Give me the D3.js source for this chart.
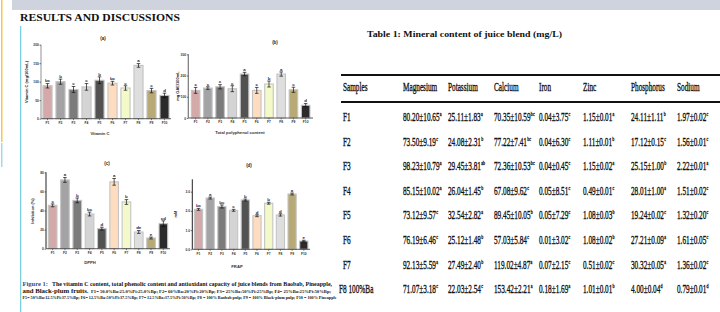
<!DOCTYPE html>
<html>
<head>
<meta charset="utf-8">
<script src="https://cdn.jsdelivr.net/npm/d3@7"></script>
<style>
  html, body { margin: 0; padding: 0; background: #fff; }
  svg { display: block; }
</style>
</head>
<body>
<svg id="page" width="720" height="312"></svg>
<script>
// ---- chart data ----
const samples = ["F1", "F2", "F3", "F4", "F5", "F6", "F7", "F8", "F9", "F10"];
const barColors = ["#d3a9a9", "#a3a3a6", "#7b7b7b", "#d4d4d4", "#525252", "#fddcc0", "#f3f9c8", "#dedede", "#b7aa76", "#2b2b2b"];

const vitaminC = [89, 100, 79, 86, 104, 96, 83, 144, 76, 63];
const vitaminCErr = [6, 7, 8, 9, 9, 5, 6, 5, 6, 6];
const vitaminCLetters = ["bc", "b", "c", "c", "b", "bc", "c", "a", "c", "d"];

const polyphenol = [130, 141, 147, 138, 207, 130, 160, 207, 133, 60];
const polyphenolErr = [14, 6, 10, 14, 8, 14, 14, 10, 12, 8];
const polyphenolLetters = ["c", "c", "c", "c", "a", "c", "b", "a", "c", "d"];

const dpph = [45.4, 72, 50.6, 36.3, 21, 70, 48.9, 17.5, 11.2, 26.2];
const dpphErr = [1.5, 2.5, 2.5, 2, 1.5, 3.5, 2.5, 1.5, 1, 3];
const dpphLetters = ["c", "a", "b", "bc", "d", "a", "b", "de", "e", "cd"];

const frap = [2.08, 2.67, 2.23, 2.03, 2.57, 1.75, 2.40, 1.79, 2.88, 0.43];
const frapErr = [0.05, 0.05, 0.08, 0.05, 0.05, 0.05, 0.05, 0.06, 0.05, 0.04];
const frapLetters = ["bc", "a", "bc", "c", "b", "d", "b", "d", "a", "e"];

// ---- table data ----
const minerals = ["Magnesium", "Potassium", "Calcium", "Iron", "Zinc", "Phosphorus", "Sodium"];
const tableSamples = ["F1", "F2", "F3", "F4", "F5", "F6", "F7", "F8 100%Ba"];
const tableValues = [
  ["80.20±10.65", "25.11±1.83", "70.35±10.59", "0.04±3.75", "1.15±0.01", "24.11±1.11", "1.97±0.02"],
  ["73.50±9.19", "24.08±2.31", "77.22±7.41", "0.04±6.30", "1.11±0.01", "17.12±0.15", "1.56±0.01"],
  ["98.23±10.79", "29.45±3.81", "72.36±10.53", "0.04±0.45", "1.15±0.02", "25.15±1.00", "2.22±0.01"],
  ["85.15±10.02", "26.04±1.45", "67.08±9.62", "0.05±8.51", "0.49±0.01", "28.01±1.00", "1.51±0.02"],
  ["73.12±9.57", "32.54±2.82", "89.45±10.05", "0.05±7.29", "1.08±0.03", "19.24±0.02", "1.32±0.20"],
  ["76.19±6.46", "25.12±1.48", "57.03±5.84", "0.01±3.02", "1.08±0.02", "27.21±0.09", "1.61±0.05"],
  ["92.13±5.59", "27.49±2.40", "119.02±4.87", "0.07±2.15", "0.51±0.02", "30.32±0.05", "1.36±0.02"],
  ["71.07±3.18", "22.03±2.54", "153.42±2.21", "0.18±1.69", "1.01±0.01", "4.00±0.04", "0.79±0.01"]
];
const tableLetters = [
  ["a", "a", "bc", "c", "a", "b", "c"],
  ["c", "b", "bc", "c", "b", "c", "c"],
  ["a", "ab", "bc", "c", "a", "b", "a"],
  ["a", "b", "c", "c", "c", "a", "c"],
  ["c", "a", "b", "c", "b", "c", "c"],
  ["c", "b", "c", "c", "b", "a", "c"],
  ["a", "b", "a", "c", "c", "a", "c"],
  ["c", "c", "a", "a", "b", "d", "d"]
];

const svg = d3.select("#page");
const serif = "'Liberation Serif', 'DejaVu Serif', serif";
const sans = "'Liberation Sans', Arial, sans-serif";

// ---- page decorations ----
svg.append("rect").attr("x", 12).attr("y", 0).attr("width", 708).attr("height", 10).attr("fill", "#cfd3dd");
svg.append("rect").attr("x", 1).attr("y", 0).attr("width", 1.5).attr("height", 142).attr("fill", "#f7c948");
svg.append("rect").attr("x", 1).attr("y", 143).attr("width", 1.5).attr("height", 24).attr("fill", "#a8d8e8");
svg.append("rect").attr("x", 20).attr("y", 26).attr("width", 1.3).attr("height", 286).attr("fill", "#7ccfe0");

svg.append("text")
    .attr("x", 20).attr("y", 21)
    .attr("font-family", serif).attr("font-weight", "bold").attr("font-size", 11)
    .attr("textLength", 160).attr("lengthAdjust", "spacingAndGlyphs")
    .attr("fill", "#111")
    .text("RESULTS AND DISCUSSIONS");

// ---- one small bar chart ----
function drawBars(cfg) {
    const g = svg.append("g");
    const x = d3.scaleBand().domain(samples).range([cfg.left, cfg.right])
        .paddingInner(0.3).paddingOuter(cfg.outer);
    const y = d3.scaleLinear().domain([0, cfg.max]).range([cfg.base, cfg.top]);

    // bars with a soft light outline
    g.selectAll("rect.bar").data(cfg.values).enter().append("rect")
        .attr("class", "bar")
        .attr("x", (d, i) => x(samples[i]))
        .attr("y", d => y(d))
        .attr("width", x.bandwidth())
        .attr("height", d => y(0) - y(d))
        .attr("fill", (d, i) => barColors[i])
        .attr("stroke", "#c4c4c4")
        .attr("stroke-width", 1.1);

    // error bars
    cfg.values.forEach((v, i) => {
        const cx = x(samples[i]) + x.bandwidth() / 2;
        const e = cfg.err[i];
        g.append("line").attr("x1", cx).attr("x2", cx).attr("y1", y(v - e)).attr("y2", y(v + e))
            .attr("stroke", "#111").attr("stroke-width", 0.7);
        [v - e, v + e].forEach(t => {
            g.append("line").attr("x1", cx - 1.8).attr("x2", cx + 1.8).attr("y1", y(t)).attr("y2", y(t))
                .attr("stroke", "#111").attr("stroke-width", 0.7);
        });
        g.append("text").attr("x", cx).attr("y", y(v + e) - 1.2)
            .attr("text-anchor", "middle").attr("font-family", sans).attr("font-weight", "bold")
            .attr("font-size", 4.4).attr("fill", "#1c1c46")
            .text(cfg.letters[i]);
    });

    // y axis
    const ya = g.append("g").attr("transform", `translate(${cfg.left},0)`)
        .call(d3.axisLeft(y).tickValues(cfg.ticks).tickSize(1.5).tickFormat(cfg.fmt));
    ya.select(".domain").attr("stroke", cfg.axisColor).attr("stroke-width", cfg.axisWidth)
        .attr("d", `M0,${cfg.axisTop}V${cfg.base}`);
    ya.selectAll(".tick line").attr("stroke", "#222").attr("stroke-width", 0.6);
    ya.selectAll(".tick text").attr("font-size", 3.3).attr("font-family", sans)
        .attr("font-weight", "bold").attr("fill", "#333").attr("x", -2.2);

    // x axis
    const xa = g.append("g").attr("transform", `translate(0,${cfg.base})`)
        .call(d3.axisBottom(x).tickSize(1.5));
    xa.select(".domain").attr("stroke", "#333").attr("stroke-width", 0.8)
        .attr("d", `M${cfg.left},0H${cfg.axisRight}`);
    xa.selectAll(".tick line").attr("stroke", "#333").attr("stroke-width", 0.6);
    xa.selectAll(".tick text").attr("font-size", 3.3).attr("font-family", sans)
        .attr("font-weight", "bold").attr("fill", "#333").attr("y", 3);

    // titles
    g.append("text").attr("x", cfg.titleX).attr("y", cfg.titleY).attr("text-anchor", "middle")
        .attr("font-family", sans).attr("font-weight", "bold").attr("font-size", 4.5).attr("fill", "#222")
        .text(cfg.title);
    g.append("text").attr("x", cfg.xlabX).attr("y", cfg.xlabY).attr("text-anchor", "middle")
        .attr("font-family", sans).attr("font-weight", "bold").attr("font-size", 4.2).attr("fill", "#333")
        .text(cfg.xlabel);
    g.append("text")
        .attr("transform", `translate(${cfg.ylabX},${cfg.ylabY}) rotate(-90)`)
        .attr("text-anchor", "middle").attr("font-family", sans).attr("font-weight", "bold")
        .attr("font-size", 4).attr("fill", "#222")
        .text(cfg.ylabel);
}

drawBars({
    values: vitaminC, err: vitaminCErr, letters: vitaminCLetters,
    left: 41, right: 171, axisRight: 171, outer: 0.15,
    max: 200, base: 118.7, top: 44.7, axisTop: 44.7, ticks: [0, 50, 100, 150, 200], fmt: d3.format("d"),
    axisColor: "#c2c2c2", axisWidth: 1.8,
    title: "(a)", titleX: 103, titleY: 40,
    xlabel: "Vitamin C", xlabX: 100, xlabY: 135,
    ylabel: "Vitamin C (mg/100mL)", ylabX: 28, ylabY: 82
});

drawBars({
    values: polyphenol, err: polyphenolErr, letters: polyphenolLetters,
    left: 188.3, right: 313, axisRight: 313, outer: 0.25,
    max: 300, base: 118, top: 54.3, axisTop: 54.3, ticks: [0, 100, 200, 300], fmt: d3.format("d"),
    axisColor: "#777", axisWidth: 1.2,
    title: "(b)", titleX: 275, titleY: 44,
    xlabel: "Total polyphenol content", xlabX: 240, xlabY: 134,
    ylabel: "mg GAE/100mL", ylabX: 179, ylabY: 86
});

drawBars({
    values: dpph, err: dpphErr, letters: dpphLetters,
    left: 46, right: 170, axisRight: 170, outer: 0.19,
    max: 80, base: 248.7, top: 172.3, axisTop: 172.3, ticks: [0, 20, 40, 60, 80], fmt: d3.format("d"),
    axisColor: "#222", axisWidth: 1,
    title: "(c)", titleX: 107, titleY: 165,
    xlabel: "DPPH", xlabX: 90, xlabY: 264,
    ylabel: "Inhibition (%)", ylabX: 34, ylabY: 211
});

drawBars({
    values: frap, err: frapErr, letters: frapLetters,
    left: 192.3, right: 310, axisRight: 310, outer: 0.18,
    max: 3, base: 249.3, top: 191.7, axisTop: 179.3, ticks: [0, 1, 2, 3], fmt: d3.format(".1f"),
    axisColor: "#222", axisWidth: 1,
    title: "(d)", titleX: 249, titleY: 167,
    xlabel: "FRAP", xlabX: 237, xlabY: 268,
    ylabel: "mM", ylabX: 177, ylabY: 214
});

// ---- figure caption ----
const cap = svg.append("g").attr("font-family", serif).attr("font-weight", "bold").attr("fill", "#111");
cap.append("text").attr("x", 22.5).attr("y", 286).attr("font-size", 6.5)
    .attr("fill", "#344a86").text("Figure 1:");
cap.append("text").attr("x", 52).attr("y", 286).attr("font-size", 6.5)
    .attr("textLength", 280).attr("lengthAdjust", "spacingAndGlyphs")
    .text("The vitamin C content, total phenolic content and antioxidant capacity of juice blends from Baobab, Pineapple,");
cap.append("text").attr("x", 22.5).attr("y", 293).attr("font-size", 6.5)
    .attr("textLength", 66).attr("lengthAdjust", "spacingAndGlyphs")
    .text("and Black-plum fruits.");
cap.append("text").attr("x", 91).attr("y", 292.5).attr("font-size", 3.6)
    .attr("textLength", 240).attr("lengthAdjust", "spacingAndGlyphs")
    .text("F1= 50.0%Ba:25.0%Pi:25.0%Bp; F2= 60%Ba:20%Pi:20%Bp; F3= 25%Ba:50%Pi:25%Bp; F4= 25%Ba:25%Pi:50%Bp;");
cap.append("text").attr("x", 22.5).attr("y", 298.5).attr("font-size", 3.6)
    .attr("textLength", 314).attr("lengthAdjust", "spacingAndGlyphs")
    .text("F5= 50%Ba:12.5%Pi:37.5%Bp; F6= 12.5%Ba:50%Pi:37.5%Bp; F7= 12.5%Ba:37.5%Pi:50%Bp; F8 = 100% Baobab pulp; F9 = 100% Black-plum pulp; F10 = 100% Pineapple");

// ---- table ----
const tbl = svg.append("g").attr("font-family", serif).attr("fill", "#111");
tbl.append("text").attr("x", 367).attr("y", 37).attr("font-size", 9).attr("font-weight", "bold")
    .attr("textLength", 195).attr("lengthAdjust", "spacingAndGlyphs")
    .text("Table 1: Mineral content of juice blend (mg/L)");

tbl.append("rect").attr("x", 341).attr("y", 74).attr("width", 379).attr("height", 2).attr("fill", "#111");
tbl.append("rect").attr("x", 341).attr("y", 101).attr("width", 379).attr("height", 2).attr("fill", "#111");

const colX = [403, 448, 494, 539, 583, 631, 677];
const rowY = d3.range(tableSamples.length).map(i => 121 + i * 24.6);
const squeeze = 0.58;

function cond(x, y, txt, size) {
    return tbl.append("text")
        .attr("transform", `translate(${x},${y}) scale(${squeeze},1)`)
        .attr("font-size", size)
        .attr("stroke", "#111").attr("stroke-width", 0.35)
        .text(txt);
}

cond(343, 91, "Samples", 12.5);
minerals.forEach((m, j) => cond(colX[j], 91, m, 12.5));

tableSamples.forEach((s, i) => {
    cond(i === 7 ? 339 : 343, rowY[i], s, 12.5);
    tableValues[i].forEach((v, j) => {
        const t = cond(colX[j], rowY[i], v, 12.5);
        const w = t.node().getComputedTextLength() * squeeze;
        cond(colX[j] + w + 0.3, rowY[i] - 5, tableLetters[i][j], 7);
    });
});
</script>
</body>
</html>
